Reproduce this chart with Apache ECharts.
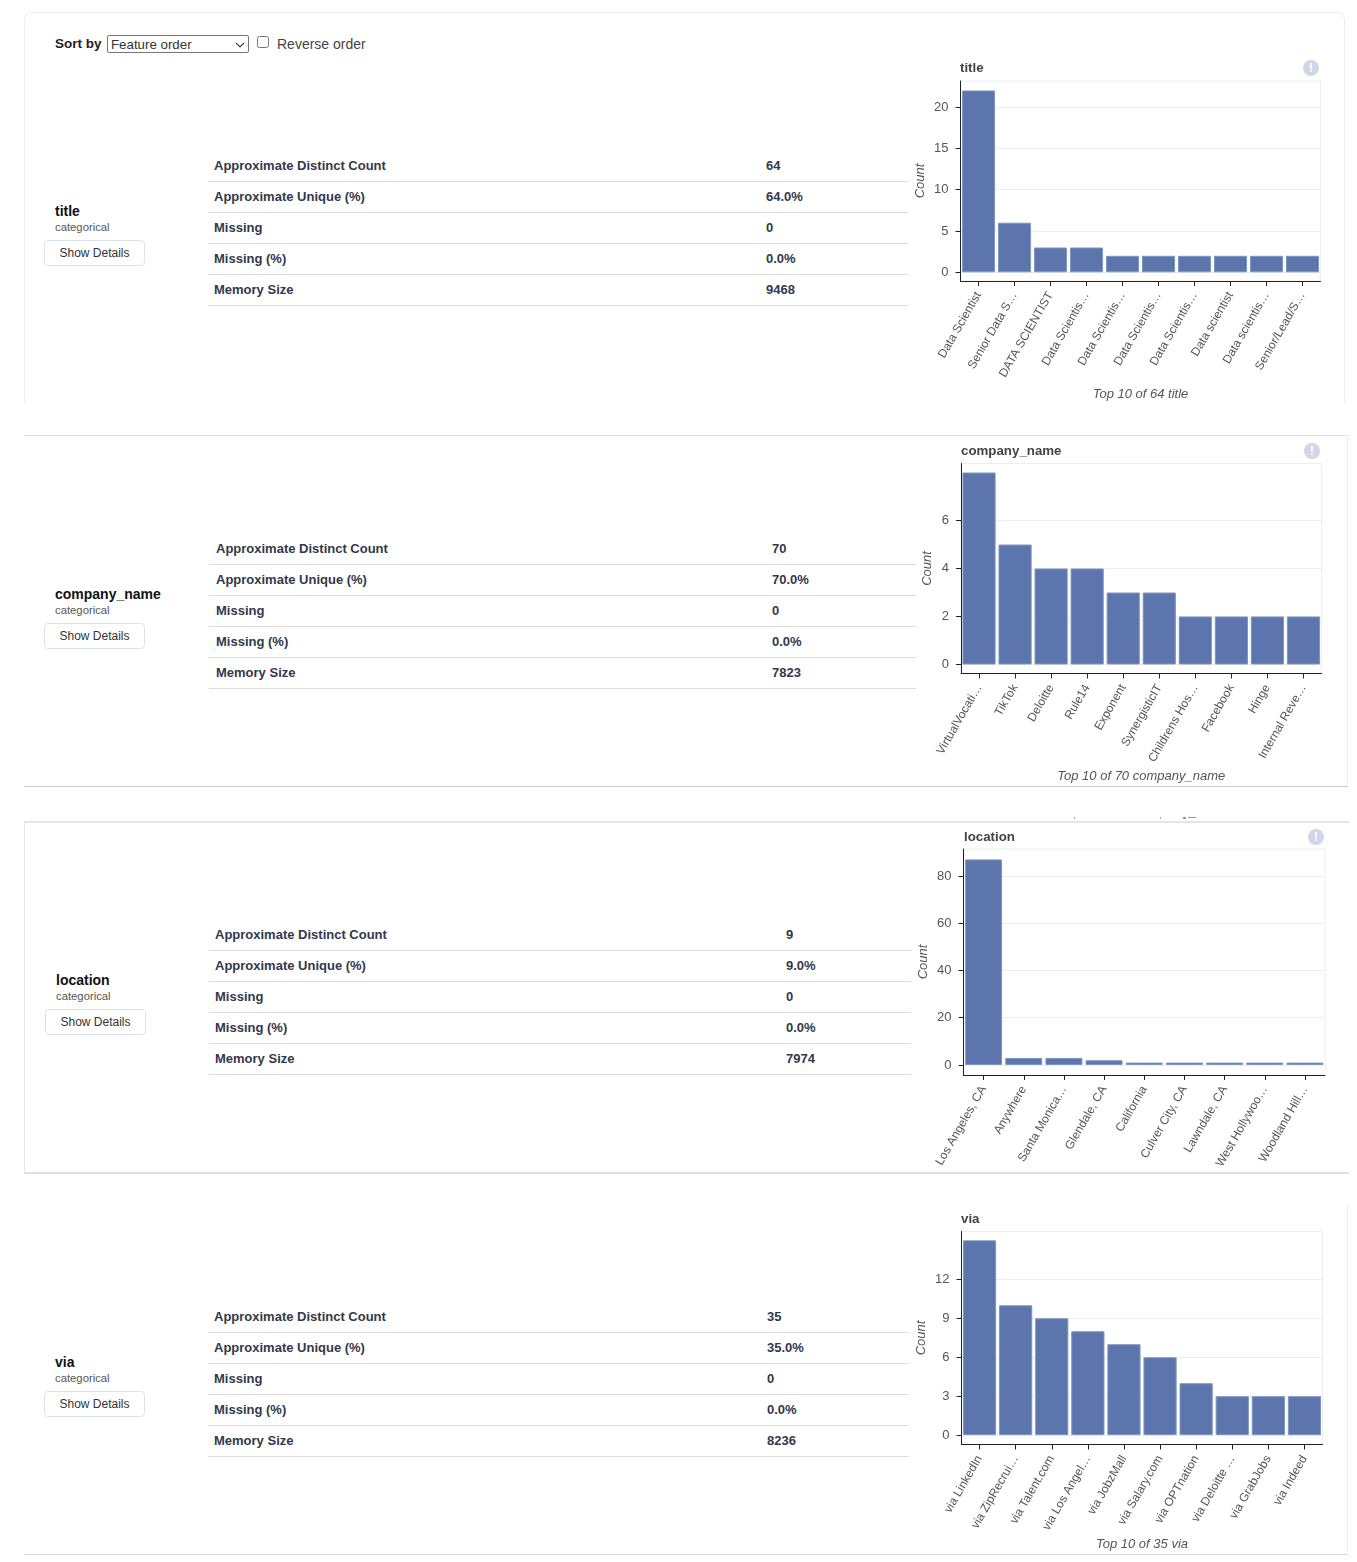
<!DOCTYPE html>
<html>
<head>
<meta charset="utf-8">
<script src="https://cdn.jsdelivr.net/npm/echarts@6/dist/echarts.min.js"></script>
<style>
html,body{margin:0;padding:0;background:#fff;}
body{position:relative;width:1357px;height:1562px;overflow:hidden;font-family:"Liberation Sans",Arial,sans-serif;}
#main{position:absolute;left:0;top:0;width:1357px;height:1562px;z-index:2;}
.t{position:absolute;white-space:nowrap;transform:translateY(-50%);line-height:1;}
.b{font-weight:bold;color:#33384a;font-size:13px;}
.name{font-weight:bold;color:#111;font-size:14px;}
.kind{color:#555;font-size:11.3px;}
.btn{position:absolute;width:99px;height:24px;border:1px solid #dbe3f0;border-radius:4px;text-align:center;font-size:12px;line-height:24px;color:#333;background:#fff;}
.ln{position:absolute;height:1px;background:#dcdcdc;}
.vl{position:absolute;width:1px;background:#eee;}
.warn{position:absolute;width:16px;height:16px;border-radius:50%;background:#d0d7eb;color:#fff;font-weight:bold;font-size:13px;line-height:16px;text-align:center;z-index:3;}
select{position:absolute;left:107px;top:35px;width:142px;height:18px;box-sizing:border-box;font:13.3px "Liberation Sans",Arial,sans-serif;color:#333;padding:0 0 0 3px;border:1px solid #767676;border-radius:2px;appearance:none;-webkit-appearance:none;
background:#fff url("data:image/svg+xml,%3Csvg xmlns='http://www.w3.org/2000/svg' width='10' height='6'%3E%3Cpath d='M1 1l4 4 4-4' fill='none' stroke='%23444' stroke-width='1.1'/%3E%3C/svg%3E") no-repeat 127px 6px;}
input{position:absolute;left:257px;top:36px;width:12px;height:12px;margin:0;}
</style>
</head>
<body>
<div id="page"></div>
<select><option>Feature order</option></select>
<input type="checkbox">
<div class="t" style="left:55px;top:44px;font-weight:bold;font-size:13.5px;color:#222">Sort by</div>
<div class="t" style="left:277px;top:44px;font-size:14px;color:#444">Reverse order</div>
<div id="main"></div>
<script>
const features = ['title', 'company_name', 'location', 'via'];
const kinds = ['categorical', 'categorical', 'categorical', 'categorical'];
const rowLabels = ['Approximate Distinct Count', 'Approximate Unique (%)', 'Missing', 'Missing (%)', 'Memory Size'];

const titleStats = ['64', '64.0%', '0', '0.0%', '9468'];
const companyStats = ['70', '70.0%', '0', '0.0%', '7823'];
const locationStats = ['9', '9.0%', '0', '0.0%', '7974'];
const viaStats = ['35', '35.0%', '0', '0.0%', '8236'];

const titleCats = ['Data Scientist', 'Senior Data S…', 'DATA SCIENTIST', 'Data Scientis…', 'Data Scientis…', 'Data Scientis…', 'Data Scientis…', 'Data scientist', 'Data scientis…', 'Senior/Lead/S…'];
const titleVals = [22, 6, 3, 3, 2, 2, 2, 2, 2, 2];
const titleTicks = [0, 5, 10, 15, 20];

const companyCats = ['VirtualVocati…', 'TikTok', 'Deloitte', 'Rule14', 'Exponent', 'SynergisticIT', 'Childrens Hos…', 'Facebook', 'Hinge', 'Internal Reve…'];
const companyVals = [8, 5, 4, 4, 3, 3, 2, 2, 2, 2];
const companyTicks = [0, 2, 4, 6];

const locationCats = ['Los Angeles, CA', 'Anywhere', 'Santa Monica…', 'Glendale, CA', 'California', 'Culver City, CA', 'Lawndale, CA', 'West Hollywoo…', 'Woodland Hill…'];
const locationVals = [87, 3, 3, 2, 1, 1, 1, 1, 1];
const locationTicks = [0, 20, 40, 60, 80];

const viaCats = ['via LinkedIn', 'via ZipRecrui…', 'via Talent.com', 'via Los Angel…', 'via JobzMall', 'via Salary.com', 'via OPTnation', 'via Deloitte …', 'via GrabJobs', 'via Indeed'];
const viaVals = [15, 10, 9, 8, 7, 6, 4, 3, 3, 3];
const viaTicks = [0, 3, 6, 9, 12];

const captions = ['Top 10 of 64 title', 'Top 10 of 70 company_name', '', 'Top 10 of 35 via'];

const stats = [titleStats, companyStats, locationStats, viaStats];
const cats = [titleCats, companyCats, locationCats, viaCats];
const vals = [titleVals, companyVals, locationVals, viaVals];
const ticks = [titleTicks, companyTicks, locationTicks, viaTicks];

/* layout of each panel */
const L = [
 {l:960.5,r:1320.5,t:81,b:281,min:-1.05,max:23.14,nameGap:34,title:[960,68],warn:[1311,68],capGap:107,
  rowY:[165,196,227,258,289],lineY:[181,212,243,274,305],lx:[208,908],labX:214,valX:766,
  nmX:55,nmY:211,kY:228,btn:[44,240]},
 {l:961,r:1321.5,t:463.5,b:673.5,min:-0.375,max:8.375,nameGap:27,title:[961,451],warn:[1312,451],capGap:96.5,
  rowY:[548,579,610,641,672],lineY:[564,595,626,657,688],lx:[209,916],labX:216,valX:772,
  nmX:55,nmY:594,kY:611,btn:[44,623]},
 {l:963.5,r:1325,t:849,b:1075,min:-4.24,max:91.4,nameGap:33.5,title:[964,837],warn:[1316,837],capGap:0,
  rowY:[934,965,996,1027,1058],lineY:[950,981,1012,1043,1074],lx:[209,911],labX:215,valX:786,
  nmX:56,nmY:980,kY:997,btn:[45,1009]},
 {l:961.5,r:1322.5,t:1231.5,b:1444.5,min:-0.72,max:15.68,nameGap:33.5,title:[961,1219],warn:[],capGap:93,
  rowY:[1316,1347,1378,1409,1440],lineY:[1332,1363,1394,1425,1456],lx:[208,909],labX:214,valX:767,
  nmX:55,nmY:1362,kY:1379,btn:[44,1391]}
];

const page = document.getElementById('page');
function add(cls, css, txt){
  const d = document.createElement('div');
  d.className = cls; d.style.cssText = css;
  if (txt !== undefined) d.textContent = txt;
  page.appendChild(d);
}
/* card frames */
add('', 'position:absolute;left:24px;top:12px;width:1321px;height:420px;box-sizing:border-box;border:1px solid #eee;border-bottom:none;border-radius:8px 8px 0 0;clip-path:inset(0 0 29px 0)');
add('ln', 'left:24px;top:435px;width:1324px;background:#ddd');
add('ln', 'left:24px;top:786px;width:1324px;background:#ccc');
add('vl', 'left:1347px;top:435px;height:351px');
add('ln', 'left:24px;top:821px;width:1325px;height:2px;background:#e6e6e6');
add('ln', 'left:24px;top:1172px;width:1325px;height:2px;background:#e0e0e0');
add('vl', 'left:24px;top:821px;height:352px;background:#e6e6e6');
add('vl', 'left:1347px;top:1205px;height:349px');
add('ln', 'left:24px;top:1554px;width:1324px;background:#d8d8d8');
/* clipped remains of text above the third card */
add('', 'position:absolute;left:1074px;top:817px;width:1px;height:2px;background:#aaa');
add('', 'position:absolute;left:1160px;top:817px;width:1px;height:2px;background:#aaa');
add('', 'position:absolute;left:1183px;top:817px;width:3px;height:2px;background:#999');
add('', 'position:absolute;left:1188px;top:817px;width:8px;height:1px;background:#999');

L.forEach((p, i) => {
  rowLabels.forEach((lab, j) => {
    add('t b', `left:${p.labX}px;top:${p.rowY[j]}px`, lab);
    add('t b', `left:${p.valX}px;top:${p.rowY[j]}px`, stats[i][j]);
    add('ln', `left:${p.lx[0]}px;top:${p.lineY[j]}px;width:${p.lx[1]-p.lx[0]}px`);
  });
  add('t name', `left:${p.nmX}px;top:${p.nmY}px`, features[i]);
  add('t kind', `left:${p.nmX}px;top:${p.kY}px`, kinds[i]);
  add('btn', `left:${p.btn[0]}px;top:${p.btn[1]}px`, 'Show Details');
  if (p.warn.length) add('warn', `left:${p.warn[0]-8}px;top:${p.warn[1]-8}px`, '!');
});

const W = 1357, H = 1562;
const font = '"Liberation Sans", Arial, sans-serif';
const option = {
  animation: false,
  title: L.map((p, i) => ({
    text: features[i], left: p.title[0], top: p.title[1] - 7, padding: 0,
    textStyle: {fontFamily: font, fontSize: 13.3, fontWeight: 'bold', color: '#444', lineHeight: 14}
  })),
  grid: L.map(p => ({
    left: p.l, width: p.r - p.l, top: p.t, height: p.b - p.t,
    show: true, borderColor: '#eeeeee', borderWidth: 1, backgroundColor: 'transparent', containLabel: false
  })),
  xAxis: L.map((p, i) => ({
    type: 'category', gridIndex: i, data: cats[i], position: 'bottom',
    name: captions[i], nameLocation: 'middle', nameGap: p.capGap,
    nameTextStyle: {fontFamily: font, fontSize: 13, fontStyle: 'italic', color: '#555'},
    axisLine: {show: true, onZero: false, lineStyle: {color: '#222', width: 1}},
    axisTick: {show: true, alignWithLabel: true, length: 5, lineStyle: {color: '#222', width: 1}},
    axisLabel: {interval: 0, rotate: 60, margin: 12, fontFamily: font, fontSize: 12, color: '#555', hideOverlap: false},
    splitLine: {show: false}
  })),
  yAxis: L.map((p, i) => ({
    type: 'value', gridIndex: i, min: p.min, max: p.max, position: 'left',
    name: 'Count', nameLocation: 'middle', nameGap: p.nameGap,
    nameTextStyle: {fontFamily: font, fontSize: 13, fontStyle: 'italic', color: '#555'},
    axisLine: {show: true, onZero: false, lineStyle: {color: '#222', width: 1}},
    axisTick: {show: true, length: 5, lineStyle: {color: '#222', width: 1}, customValues: ticks[i]},
    axisLabel: {margin: 12, fontFamily: font, fontSize: 13, color: '#555', customValues: ticks[i], showMinLabel: true, showMaxLabel: true},
    splitLine: {show: true, lineStyle: {color: '#eeeeee', width: 1}}
  })),
  series: L.map((p, i) => ({
    type: 'bar', xAxisIndex: i, yAxisIndex: i, data: vals[i],
    barCategoryGap: '8%',
    itemStyle: {color: '#5c76ad', borderColor: '#7f95c2', borderWidth: 1},
    silent: true
  }))
};
const chart = echarts.init(document.getElementById('main'), null, {width: W, height: H, renderer: 'canvas'});
chart.setOption(option);
</script>
</body>
</html>
